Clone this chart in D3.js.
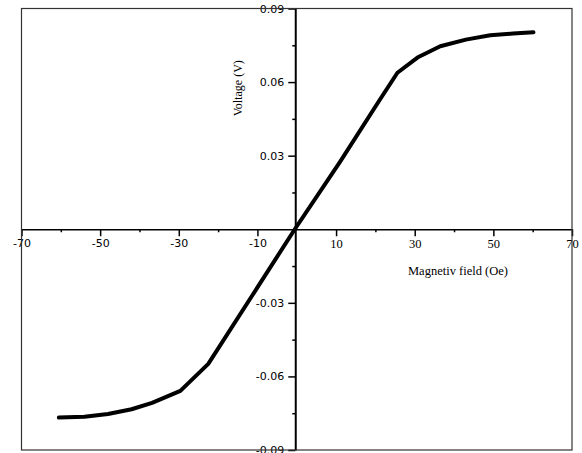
<!DOCTYPE html>
<html>
<head>
<meta charset="utf-8">
<script src="https://cdn.jsdelivr.net/npm/d3@7"></script>
<style>
  body { margin: 0; background: #fff; }
  svg { display: block; }
</style>
</head>
<body>
<div id="chart"></div>
<script>
"use strict";
// data
const fieldOe = [-60.5, -54, -48, -42, -36.8, -29.6, -22.5, -0.5, 11, 21, 25.6, 30.7, 36.5, 43, 49.2, 55, 60.2];
const voltageV = [-0.0768, -0.0764, -0.0753, -0.0734, -0.0708, -0.0659, -0.0549, 0, 0.0275, 0.0525, 0.0638, 0.070, 0.0746, 0.0773, 0.0791, 0.0798, 0.0803];

const xMajor = [-70, -50, -30, -10, 10, 30, 50, 70];
const xMinor = [-60, -40, -20, 20, 40, 60];
const yMajor = [-0.09, -0.06, -0.03, 0.03, 0.06, 0.09];
const yMinor = [-0.075, -0.045, -0.015, 0.015, 0.045, 0.075];

const width = 582, height = 453;
const box = {left: 21.5, right: 572, top: 8.5, bottom: 450};

const x = d3.scaleLinear().domain([-70, 70]).range([box.left, box.right]);
const y = d3.scaleLinear().domain([-0.09, 0.09]).range([box.bottom, box.top]);

// plain hyphen instead of the unicode minus
const hyphen = (f) => (d) => f(d).replace("\u2212", "-");

const svg = d3.select("#chart")
    .append("svg")
    .attr("width", width)
    .attr("height", height);

const x0 = x(0) - 1.5, y0 = y(0);

// x axis through y = 0
const gx = svg.append("g").attr("transform", `translate(0,${y0})`);
gx.call(d3.axisBottom(x).tickValues(xMajor).tickSize(7).tickSizeOuter(0).tickPadding(3)
    .tickFormat(hyphen(d3.format("d"))));
gx.append("g").call(d3.axisBottom(x).tickValues(xMinor).tickSize(3).tickFormat(""))
    .call((g) => g.select(".domain").remove());
gx.selectAll(".domain").attr("stroke-width", 1.6);
gx.selectAll(".tick line").attr("stroke-width", 1.5);
gx.selectAll(".tick text")
    .attr("fill", "#000")
    .attr("font-family", (d) => d < 0 ? "DejaVu Sans, sans-serif" : "Liberation Serif, serif")
    .style("font-size", (d) => d < 0 ? "11px" : "12.5px");

// y axis through x = 0
const gy = svg.append("g").attr("transform", `translate(${x0},0)`);
gy.call(d3.axisLeft(y).tickValues(yMajor).tickSize(7).tickSizeOuter(0).tickPadding(4)
    .tickFormat(hyphen(d3.format(".2f"))));
gy.append("g").call(d3.axisLeft(y).tickValues(yMinor).tickSize(3).tickFormat(""))
    .call((g) => g.select(".domain").remove());
gy.selectAll(".domain").attr("stroke-width", 2);
gy.selectAll(".tick line").attr("stroke-width", 1.5);
gy.selectAll(".tick text")
    .attr("fill", "#000")
    .attr("font-family", "DejaVu Sans, sans-serif")
    .style("font-size", "11px");

// frame
svg.append("rect")
    .attr("x", box.left)
    .attr("y", box.top)
    .attr("width", box.right - box.left)
    .attr("height", box.bottom - box.top)
    .attr("fill", "none")
    .attr("stroke", "#333")
    .attr("stroke-width", 1.2);

// axis titles
svg.append("text")
    .attr("transform", `translate(${x0 - 53},${y(0.0575)}) rotate(-90)`)
    .attr("text-anchor", "middle")
    .attr("font-family", "Liberation Serif, serif")
    .attr("font-size", 12)
    .text("Voltage (V)");

svg.append("text")
    .attr("x", x(41))
    .attr("y", y(-0.0185))
    .attr("text-anchor", "middle")
    .attr("font-family", "Liberation Serif, serif")
    .attr("font-size", 12.5)
    .text("Magnetiv field (Oe)");

// the curve
const line = d3.line()
    .x((d, i) => x(fieldOe[i]))
    .y((d) => y(d));

svg.append("path")
    .datum(voltageV)
    .attr("fill", "none")
    .attr("stroke", "#000")
    .attr("stroke-width", 4)
    .attr("stroke-linejoin", "round")
    .attr("stroke-linecap", "round")
    .attr("d", line);
</script>
</body>
</html>
